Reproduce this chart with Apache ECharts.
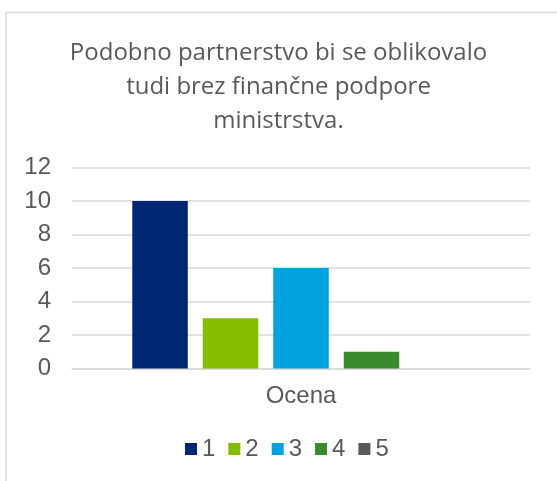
<!DOCTYPE html>
<html>
<head>
<meta charset="utf-8">
<script src="https://cdn.jsdelivr.net/npm/echarts@6/dist/echarts.min.js"></script>
<style>
html,body{margin:0;padding:0;background:#fff;}
#c{width:557px;height:481px;}
</style>
</head>
<body>
<div id="c"></div>
<script>
const titleText = 'Podobno partnerstvo bi se oblikovalo\ntudi brez finančne podpore\nministrstva.';
const categories = ['Ocena'];
const seriesNames = ['1', '2', '3', '4', '5'];
const seriesValues = [10, 3, 6, 1, 0];
const seriesColors = ['#002673', '#84bd00', '#00a3e0', '#3c8a2e', '#595959'];
const yTicks = { min: 0, max: 12, interval: 2 };

const chart = echarts.init(document.getElementById('c'), null, { renderer: 'canvas' });
const series = seriesNames.map((name, i) => ({
  name: name,
  type: 'bar',
  data: [seriesValues[i]],
  barWidth: 55.5,
  barGap: '27%',
  itemStyle: { color: seriesColors[i] }
}));

chart.setOption({
  animation: false,
  backgroundColor: '#ffffff',
  graphic: [{
    type: 'rect',
    shape: { x: 6, y: 12.5, width: 700, height: 600 },
    style: { fill: 'none', stroke: '#d9d9d9', lineWidth: 1.5 },
    silent: true,
    z: -1
  }],
  title: {
    text: titleText,
    left: 'center',
    top: 36,
    padding: [0, 0, 0, 10],
    textStyle: {
      fontFamily: 'Open Sans',
      fontSize: 24,
      fontWeight: 'normal',
      color: '#595959',
      lineHeight: 34
    }
  },
  legend: {
    data: seriesNames,
    left: 185,
    top: 437,
    padding: 0,
    icon: 'rect',
    itemWidth: 12,
    itemHeight: 12,
    itemGap: 13,
    textStyle: { fontFamily: 'Liberation Sans', fontSize: 24, color: '#595959' }
  },
  grid: { left: 72, right: 27, top: 167.5, bottom: 112.5, containLabel: false },
  xAxis: {
    type: 'category',
    data: categories,
    axisLine: { show: true, lineStyle: { color: '#d9d9d9', width: 1.5 } },
    axisTick: { show: false },
    axisLabel: { fontFamily: 'Liberation Sans', fontSize: 24, color: '#595959', margin: 16 },
    splitLine: { show: false }
  },
  yAxis: {
    type: 'value',
    min: yTicks.min,
    max: yTicks.max,
    interval: yTicks.interval,
    axisLine: { show: false },
    axisTick: { show: false },
    axisLabel: { fontFamily: 'Liberation Sans', fontSize: 24, color: '#595959', margin: 21 },
    splitLine: { lineStyle: { color: '#d9d9d9', width: 1.5 } }
  },
  series: series
});
</script>
</body>
</html>
